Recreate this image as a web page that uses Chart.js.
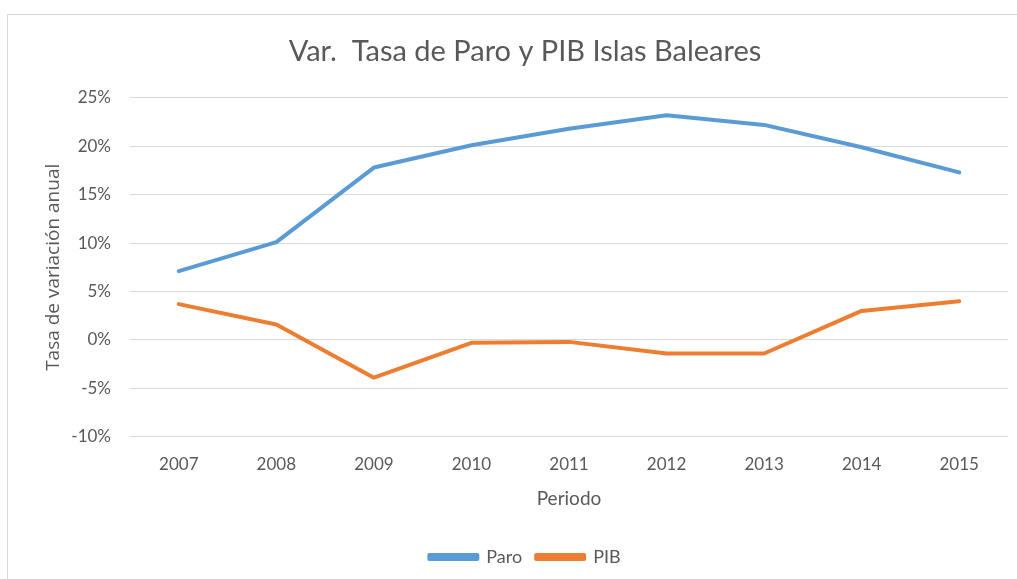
<!DOCTYPE html>
<html lang="es">
<head>
    <meta charset="UTF-8">
    <title>Var. Tasa de Paro y PIB Islas Baleares</title>
    <script src="https://cdn.jsdelivr.net/npm/chart.js"></script>
    <style>
        html, body { margin: 0; padding: 0; background: #fff; overflow: hidden; }
        .marco {
            position: absolute; left: 7px; top: 14px;
            width: 1100px; height: 700px;
            border: 1px solid #d9d9d9;
        }
        .grafico {
            position: absolute; left: 0; top: 0;
            width: 1017px; height: 579px;
        }
    </style>
</head>
<body>
    <div class="marco"></div>
    <div class="grafico">
        <canvas id="grafico_linea"></canvas>
    </div>
<script>
    // datos (% de variacion anual)
    var periodos = ['2007', '2008', '2009', '2010', '2011', '2012', '2013', '2014', '2015'];
    var paro = [7.1, 10.1, 17.8, 20.1, 21.8, 23.2, 22.2, 19.9, 17.3];
    var pib = [3.7, 1.6, -3.9, -0.3, -0.2, -1.4, -1.4, 3.0, 4.0];
    var ticksY = [-10, -5, 0, 5, 10, 15, 20, 25];

    var colorParo = '#5B9BD5';
    var colorPib = '#ED7D31';
    var colorTexto = '#595959';
    var fuente = 'Lato, "Open Sans", sans-serif';

    const chart = new Chart('grafico_linea', {
        type: 'line',
        data: {
            labels: periodos,
            datasets: [{
                label: 'Paro',
                data: paro,
                borderColor: colorParo,
                backgroundColor: colorParo,
                borderWidth: 4,
                pointRadius: 0,
                tension: 0,
                borderCapStyle: 'round',
                borderJoinStyle: 'round'
            }, {
                label: 'PIB',
                data: pib,
                borderColor: colorPib,
                backgroundColor: colorPib,
                borderWidth: 4,
                pointRadius: 0,
                tension: 0,
                borderCapStyle: 'round',
                borderJoinStyle: 'round'
            }]
        },
        options: {
            responsive: true,
            maintainAspectRatio: false,
            animation: false,
            layout: {
                padding: { left: 42, right: 9, top: 0, bottom: 3 }
            },
            plugins: {
                title: {
                    display: true,
                    text: 'Var.  Tasa de Paro y PIB Islas Baleares',
                    color: colorTexto,
                    font: { family: fuente, size: 29, weight: 'normal' },
                    padding: { top: 34, bottom: 29 }
                },
                legend: {
                    position: 'bottom',
                    labels: {
                        color: colorTexto,
                        font: { family: fuente, size: 18 },
                        boxWidth: 48,
                        boxHeight: 4,
                        padding: 14
                    }
                },
                tooltip: { enabled: false }
            },
            scales: {
                x: {
                    offset: true,
                    grid: { display: false },
                    border: { display: false },
                    ticks: {
                        color: colorTexto,
                        font: { family: fuente, size: 17 },
                        padding: 10
                    },
                    title: {
                        display: true,
                        text: 'Periodo',
                        color: colorTexto,
                        font: { family: fuente, size: 19 },
                        padding: { top: 2, bottom: 24 }
                    }
                },
                y: {
                    min: -10,
                    max: 25,
                    afterBuildTicks: function (escala) {
                        escala.ticks = ticksY.map(function (v) { return { value: v }; });
                    },
                    afterFit: function (escala) {
                        escala.width = 88;
                    },
                    grid: { color: '#d9d9d9', lineWidth: 1, drawTicks: false },
                    border: { display: false },
                    ticks: {
                        color: colorTexto,
                        font: { family: fuente, size: 17 },
                        padding: 19,
                        callback: function (v) { return v + '%'; }
                    },
                    title: {
                        display: true,
                        text: 'Tasa de variación anual',
                        color: colorTexto,
                        font: { family: '"Open Sans", sans-serif', size: 19 },
                        padding: 0
                    }
                }
            }
        }
    });
</script>
</body>
</html>
